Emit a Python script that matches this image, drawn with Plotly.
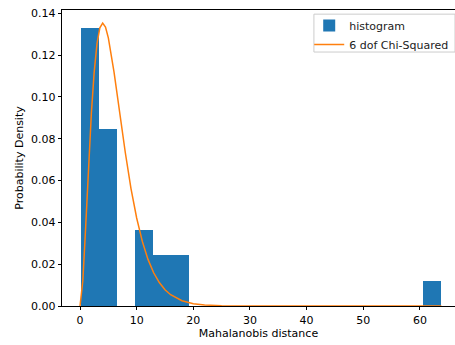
import numpy as np
import plotly.graph_objects as go

# Histogram (density) values
bin_lo = 0.1
bin_hi = 63.8
n_bins = 20
hist_density = [0.1328, 0.0845, 0.0, 0.0362, 0.0242, 0.0242, 0.0, 0.0, 0.0, 0.0,
                0.0, 0.0, 0.0, 0.0, 0.0, 0.0, 0.0, 0.0, 0.0, 0.0121]

# 6 dof chi-squared curve
chi_x = [0, 0.5, 1, 1.5, 2, 2.5, 3, 3.5, 4, 4.5, 5, 6, 7, 8, 9, 10, 11, 12, 13,
         14, 15, 16, 18, 20, 22, 25, 30, 40, 50, 63.8]
chi_y = [0, 0.0122, 0.0379, 0.0664, 0.0920, 0.1119, 0.1255, 0.1331, 0.1353,
         0.1334, 0.1283, 0.1120, 0.0925, 0.0733, 0.0562, 0.0421, 0.0309, 0.0223,
         0.0159, 0.0112, 0.0078, 0.0054, 0.0025, 0.0011, 0.0005, 0.00015,
         0.00002, 0.0, 0.0, 0.0]

x_ticks = [0, 10, 20, 30, 40, 50, 60]
y_ticks = [0.00, 0.02, 0.04, 0.06, 0.08, 0.10, 0.12, 0.14]

edges = np.linspace(bin_lo, bin_hi, n_bins + 1)
centers = (edges[:-1] + edges[1:]) / 2
widths = np.diff(edges)

fig = go.Figure()
fig.add_trace(go.Bar(x=centers, y=hist_density, width=widths, name="histogram",
                     marker=dict(color="#1f77b4", line=dict(width=0))))
fig.add_trace(go.Scatter(x=chi_x, y=chi_y, mode="lines", name="6 dof Chi-Squared",
                         line=dict(color="#ff7f0e", width=1.5)))

# legend frame (matplotlib-style box)
fig.add_shape(type="rect", xref="paper", yref="paper", x0=0.641, x1=1.0,
              y0=0.858, y1=0.986, layer="above",
              line=dict(color="#cccccc", width=1),
              fillcolor="rgba(255,255,255,0.8)")

font = dict(family="DejaVu Sans", size=11, color="black")
fig.update_layout(
    width=455, height=345,
    margin=dict(l=62, r=0, t=10, b=39),
    plot_bgcolor="white", paper_bgcolor="white",
    font=font,
    bargap=0,
    legend=dict(x=0.998, y=1.0, xanchor="right", yanchor="top",
                bgcolor="rgba(0,0,0,0)", bordercolor="rgba(0,0,0,0)", borderwidth=1,
                font=dict(family="DejaVu Sans", size=11, color="#222"),
                tracegroupgap=0, itemwidth=30),
    xaxis=dict(range=[-3.18, 66.2], tickvals=x_ticks, ticks="outside", ticklen=3.5,
               tickwidth=0.8, tickcolor="black", showgrid=False, zeroline=False,
               showline=True, linecolor="black", linewidth=0.8, mirror=True,
               automargin=False,
               title=dict(text="Mahalanobis distance", font=font, standoff=3)),
    yaxis=dict(range=[0, 0.1416], tickvals=y_ticks, tickformat=".2f", ticks="outside",
               ticklen=3.5, tickwidth=0.8, tickcolor="black", showgrid=False,
               zeroline=False, showline=True, linecolor="black", linewidth=0.8,
               automargin=False,
               title=dict(text="Probability Density", font=font, standoff=5)),
)

fig.write_html("out.html")
